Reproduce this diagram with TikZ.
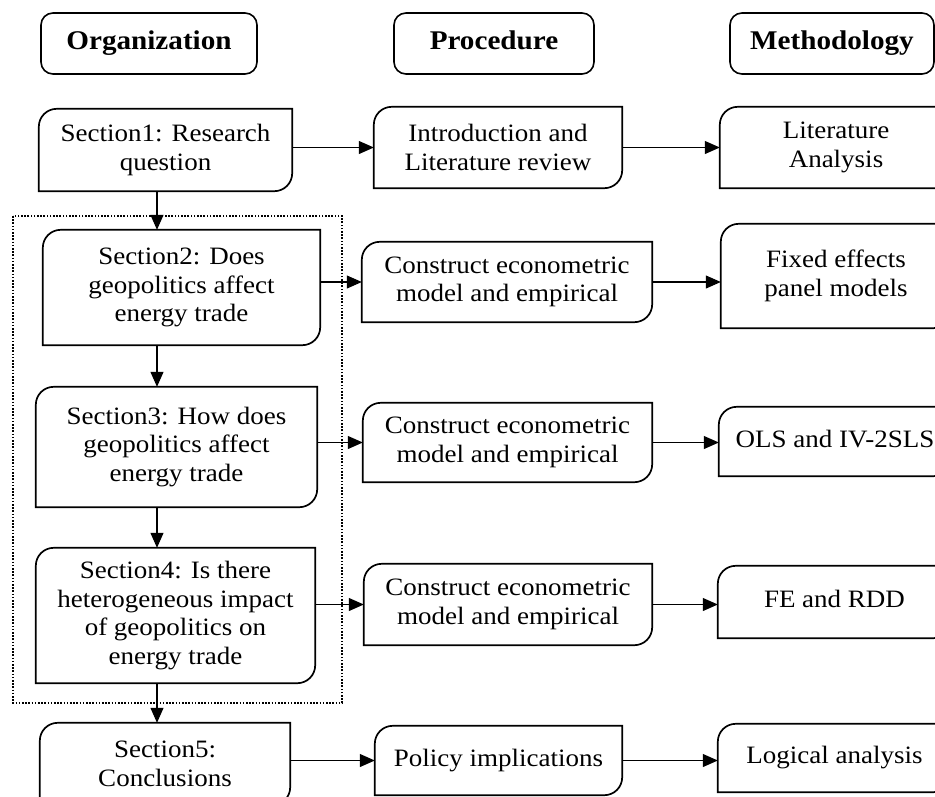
\documentclass[tikz,border=0pt]{standalone}
\usepackage{fontspec}
\setmainfont{Liberation Serif}[FakeStretch=1.08]
\usetikzlibrary{arrows.meta, positioning}

\tikzset{
  box/.style={align=center, inner sep=0pt, font=\fontsize{25}{28.5}\selectfont},
  one/.style={text height=17pt, text depth=6pt},
  head/.style={box, one, draw, line width=1.6pt, rounded corners=12pt, font=\fontsize{27}{30}\selectfont\bfseries},
  frame/.style={line width=1.7pt},
  arr/.style={line width=1.1pt, -{Triangle[length=15pt,width=13pt]}},
  group/.style={line width=1.6pt, dash pattern=on 1.6pt off 1.6pt},
}

\begin{document}
\begin{tikzpicture}[x=1pt, y=-1pt]

\useasboundingbox (0,0) rectangle (935,796);
\clip (0,0) rectangle (935,796);

%// column heads
\node[head, minimum width=216pt, minimum height=61pt] (org) at (149,43.5) {Organization};
\node[head, minimum width=200pt, minimum height=61pt] (proc) at (494,43.5) {Procedure};
\node[head, minimum width=204pt, minimum height=61pt] (meth) at (832,43.5) {Methodology};

%// organization column
\node[box, minimum width=253pt, minimum height=82pt] (s1) at (165.5,150) {Section1: Research\\question};
\node[box, minimum width=277pt, minimum height=115pt] (s2) at (181.5,287.5) {Section2: Does\\geopolitics affect\\energy trade};
\node[box, minimum width=281pt, minimum height=120pt] (s3) at (176.5,447) {Section3: How does\\geopolitics affect\\energy trade};
\node[box, minimum width=279pt, minimum height=135pt] (s4) at (175.5,615.5) {Section4: Is there\\heterogeneous impact\\of geopolitics on\\energy trade};
\node[box, minimum width=250pt, minimum height=82pt] (s5) at (165,764) {Section5:\\Conclusions};

%// procedure column
\node[box, minimum width=248pt, minimum height=81pt] (p1) at (498,147.5) {Introduction and\\Literature review};
\node[box, minimum width=290pt, minimum height=80pt] (p2) at (507,282) {Construct econometric\\model and empirical};
\node[box, minimum width=289pt, minimum height=79pt] (p3) at (507.5,442.5) {Construct econometric\\model and empirical};
\node[box, minimum width=288pt, minimum height=81pt] (p4) at (508,604.5) {Construct econometric\\model and empirical};
\node[box, one, minimum width=247pt, minimum height=69pt] (p5) at (498.5,760.5) {Policy implications};

%// methodology column
\node[box, minimum width=232pt, minimum height=81pt] (m1) at (836,147.5) {Literature\\Analysis};
\node[box, minimum width=230pt, minimum height=104pt] (m2) at (836,276) {Fixed effects\\panel models};
\node[box, one, minimum width=232pt, minimum height=69pt] (m3) at (835,441.5) {OLS and IV-2SLS};
\node[box, one, minimum width=233pt, minimum height=72pt] (m4) at (834.5,602) {FE and RDD};
\node[box, one, minimum width=233pt, minimum height=68pt] (m5) at (834.5,758) {Logical analysis};

%// outlines: round corner top left and bottom right
\foreach \n in {s1,s2,s3,s4,s5,p1,p2,p3,p4,p5,m1,m2,m3,m4,m5}
\draw[frame] ([xshift=18pt]\n.north west) -- (\n.north east)
  -- ([yshift=18pt]\n.south east) .. controls ([yshift=8pt]\n.south east) and ([xshift=-8pt]\n.south east) .. ([xshift=-18pt]\n.south east)
  -- (\n.south west)
  -- ([yshift=-18pt]\n.north west) .. controls ([yshift=-8pt]\n.north west) and ([xshift=8pt]\n.north west) .. ([xshift=18pt]\n.north west)
  -- cycle;

%// dotted group round sections 2-4
\draw[group] (13,216) rectangle (342,703);

%// connectors
\coordinate (spine) at (157,0);
\draw[arr] (s1.south -| spine) -- (s2.north -| spine);
\draw[arr] (s2.south -| spine) -- (s3.north -| spine);
\draw[arr] (s3.south -| spine) -- (s4.north -| spine);
\draw[arr] (s4.south -| spine) -- (s5.north -| spine);

\foreach \i in {1,2,3,4,5}
{
\draw[arr] (s\i.east |- p\i.west) -- (p\i.west);
\draw[arr] (p\i.east) -- (p\i.east -| m\i.west);
}

\end{tikzpicture}
\end{document}
